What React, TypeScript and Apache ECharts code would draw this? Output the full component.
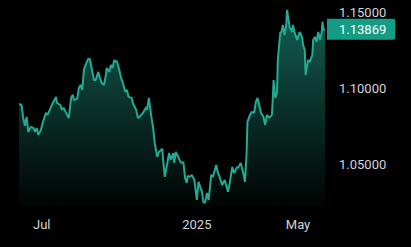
import React, { useEffect, useRef } from "react";
import * as echarts from "echarts";

const dates: string[] = [
  "2024-06-04","2024-06-07","2024-06-09","2024-06-11","2024-06-13","2024-06-15","2024-06-18","2024-06-21","2024-06-23","2024-06-25",
  "2024-06-27","2024-06-30","2024-07-02","2024-07-06","2024-07-08","2024-07-13","2024-07-14","2024-07-18","2024-07-19","2024-07-23",
  "2024-07-25","2024-07-27","2024-07-31","2024-08-02","2024-08-05","2024-08-07","2024-08-08","2024-08-12","2024-08-14","2024-08-16",
  "2024-08-18","2024-08-20","2024-08-22","2024-08-25","2024-08-27","2024-08-30","2024-09-01","2024-09-03","2024-09-06","2024-09-08",
  "2024-09-10","2024-09-13","2024-09-15","2024-09-16","2024-09-19","2024-09-21","2024-09-23","2024-09-25","2024-09-27","2024-09-28",
  "2024-10-01","2024-10-03","2024-10-05","2024-10-08","2024-10-10","2024-10-12","2024-10-16","2024-10-17","2024-10-21","2024-10-23",
  "2024-10-27","2024-10-29","2024-11-02","2024-11-03","2024-11-05","2024-11-08","2024-11-10","2024-11-12","2024-11-15","2024-11-17",
  "2024-11-21","2024-11-22","2024-11-24","2024-11-27","2024-11-29","2024-12-01","2024-12-04","2024-12-05","2024-12-07","2024-12-10",
  "2024-12-13","2024-12-16","2024-12-18","2024-12-20","2024-12-21","2024-12-24","2024-12-26","2024-12-29","2025-01-01","2025-01-03",
  "2025-01-07","2025-01-09","2025-01-11","2025-01-13","2025-01-15","2025-01-18","2025-01-20","2025-01-24","2025-01-26","2025-01-28",
  "2025-01-31","2025-02-03","2025-02-07","2025-02-09","2025-02-12","2025-02-14","2025-02-18","2025-02-19","2025-02-22","2025-02-25",
  "2025-02-27","2025-03-01","2025-03-02","2025-03-05","2025-03-07","2025-03-10","2025-03-12","2025-03-14","2025-03-16","2025-03-18",
  "2025-03-21","2025-03-23","2025-03-25","2025-03-28","2025-03-31","2025-04-01","2025-04-02","2025-04-04","2025-04-06","2025-04-07",
  "2025-04-10","2025-04-11","2025-04-13","2025-04-15","2025-04-17","2025-04-18","2025-04-21","2025-04-24","2025-04-25","2025-04-27",
  "2025-04-30","2025-05-01","2025-05-03","2025-05-06","2025-05-07","2025-05-09","2025-05-10","2025-05-13","2025-05-15","2025-05-18",
  "2025-05-19","2025-05-21","2025-05-23","2025-05-25","2025-05-27","2025-05-29","2025-05-30","2025-05-31","2025-06-02",
];

const prices: number[] = [
  1.0897,1.0890,1.0805,1.0753,1.0812,1.0713,1.0746,1.0739,1.0713,1.0739,
  1.0694,1.0726,1.0772,1.0838,1.0825,1.0890,1.0903,1.0943,1.0903,1.0890,
  1.0858,1.0871,1.0825,1.0805,1.0943,1.0956,1.0923,1.0930,1.1002,1.1022,
  1.0989,1.1120,1.1153,1.1192,1.1192,1.1107,1.1054,1.1054,1.1107,1.1068,
  1.1035,1.1022,1.1087,1.1133,1.1107,1.1153,1.1133,1.1186,1.1173,1.1179,
  1.1120,1.1068,1.1041,1.0976,1.0989,1.0943,1.0936,1.0903,1.0858,1.0805,
  1.0825,1.0838,1.0877,1.0858,1.0936,1.0812,1.0746,1.0641,1.0549,1.0582,
  1.0602,1.0530,1.0418,1.0510,1.0575,1.0530,1.0575,1.0510,1.0582,1.0549,
  1.0510,1.0515,1.0411,1.0379,1.0425,1.0418,1.0431,1.0398,1.0267,1.0385,
  1.0320,1.0247,1.0254,1.0313,1.0267,1.0431,1.0418,1.0497,1.0444,1.0418,
  1.0365,1.0398,1.0320,1.0379,1.0484,1.0444,1.0484,1.0477,1.0510,1.0444,
  1.0385,1.0575,1.0779,1.0825,1.0844,1.0838,1.0910,1.0936,1.0890,1.0838,
  1.0812,1.0759,1.0825,1.0805,1.0825,1.0923,1.1054,1.0936,1.0969,1.1186,
  1.1369,1.1363,1.1415,1.1350,1.1415,1.1514,1.1402,1.1369,1.1415,1.1363,
  1.1317,1.1337,1.1369,1.1330,1.1284,1.1251,1.1087,1.1186,1.1173,1.1219,
  1.1317,1.1337,1.1304,1.1369,1.1317,1.1363,1.1435,1.1383,1.13869,
];

const xTickDates: string[] = ["2024-07-01", "2025-01-01", "2025-05-01"];
const xTickLabels: string[] = ["Jul", "2025", "May"];
const yTicks: number[] = [1.05, 1.1, 1.15];
const lastPrice = 1.13869;

const toTs = (s: string) => {
  const [y, m, d] = s.split("-").map(Number);
  return Date.UTC(y, m - 1, d);
};

export default function App() {
  const ref = useRef<HTMLDivElement>(null);
  useEffect(() => {
    if (!ref.current) return;
    const chart = echarts.init(ref.current, undefined, { renderer: "svg" });
    const xTicks = xTickDates.map(toTs);
    const font = "Roboto";
    const yMin = 1.0227;
    const yMax = 1.1579;
    chart.setOption({
      animation: false,
      backgroundColor: "#000000",
      grid: { left: 19, right: 86, top: 0, bottom: 41, containLabel: false },
      xAxis: {
        type: "value",
        min: toTs("2024-06-04"),
        max: toTs("2025-06-02"),
        axisLine: { show: false },
        axisTick: { show: false },
        splitLine: { show: false },
        axisLabel: {
          customValues: xTicks,
          color: "#d1d4dc",
          fontSize: 13,
          fontFamily: font,
          margin: 12,
          formatter: (v: number) => {
            let best = 0;
            xTicks.forEach((t, i) => {
              if (Math.abs(t - v) < Math.abs(xTicks[best] - v)) best = i;
            });
            return xTickLabels[best];
          },
        },
      },
      yAxis: [
        {
          type: "value",
          position: "right",
          min: yMin,
          max: yMax,
          axisLine: { show: false },
          axisTick: { show: false },
          splitLine: { show: false },
          axisLabel: {
            customValues: yTicks,
            color: "#d1d4dc",
            fontSize: 13,
            fontFamily: font,
            margin: 14,
            formatter: (v: number) => v.toFixed(5),
          },
        },
        {
          type: "value",
          position: "right",
          min: yMin,
          max: yMax,
          axisLine: { show: false },
          axisTick: { show: false },
          splitLine: { show: false },
          axisLabel: {
            customValues: [lastPrice],
            color: "#ffffff",
            fontSize: 13,
            fontFamily: font,
            margin: 2,
            backgroundColor: "#139d84",
            padding: [4, 9, 4, 12],
            borderRadius: [0, 2, 2, 0],
            formatter: (v: number) => v.toFixed(5),
          },
        },
      ],
      series: [
        {
          type: "line",
          yAxisIndex: 0,
          data: dates.map((d, i) => [toTs(d), prices[i]]),
          showSymbol: false,
          symbol: "none",
          lineStyle: { color: "#22ab94", width: 2 },
          areaStyle: {
            origin: "start",
            color: new echarts.graphic.LinearGradient(0, 0, 0, 1, [
              { offset: 0, color: "rgba(34,171,148,0.8)" },
              { offset: 0.5, color: "rgba(34,171,148,0.4)" },
              { offset: 1, color: "rgba(34,171,148,0.03)" },
            ]),
          },
        },
      ],
    });
    return () => chart.dispose();
  }, []);
  return (
    <div
      ref={ref}
      style={{ position: "fixed", left: 0, top: 0, width: 411, height: 247, background: "#000" }}
    />
  );
}
